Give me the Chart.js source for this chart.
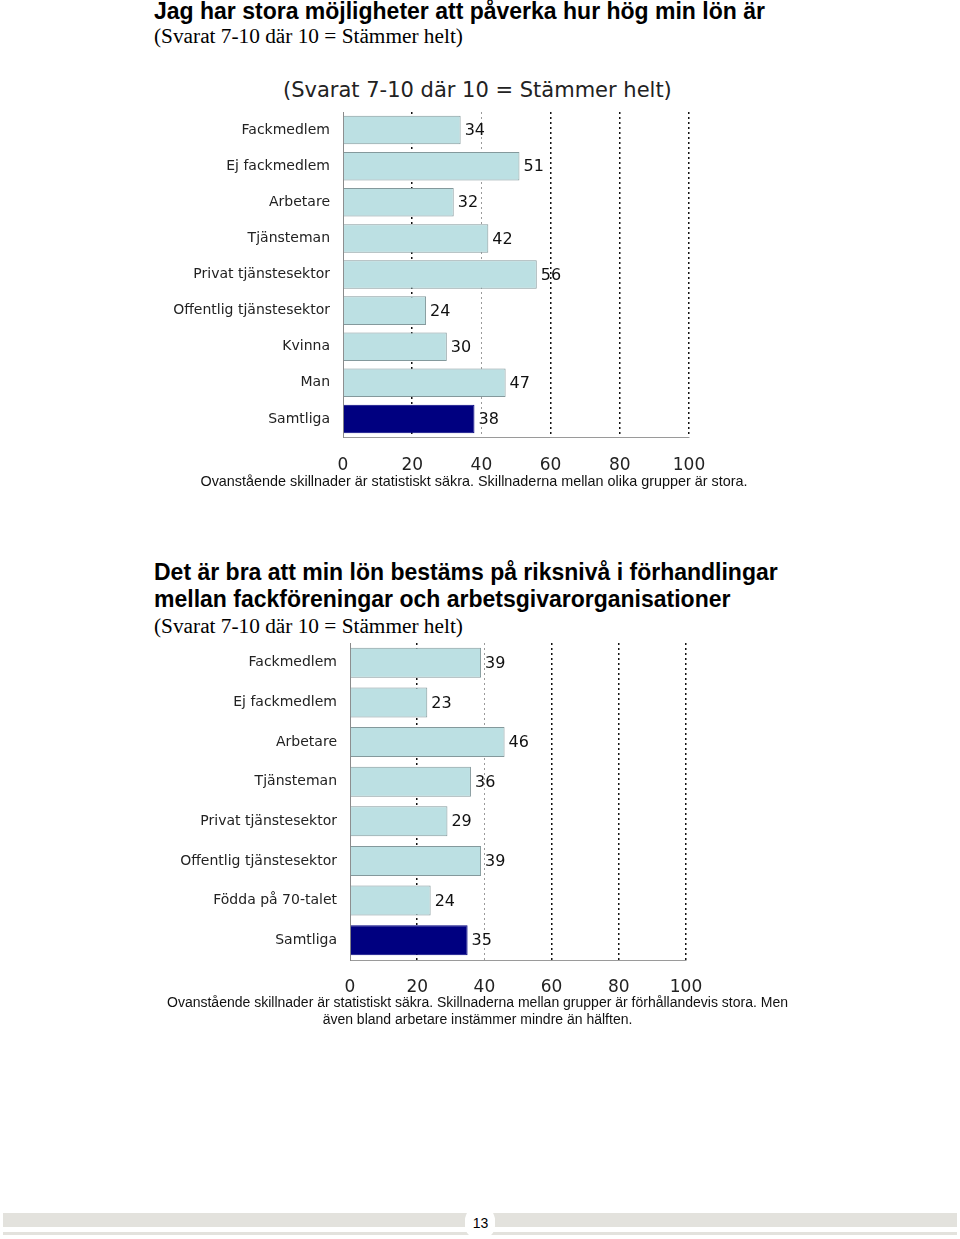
<!DOCTYPE html>
<html><head><meta charset="utf-8">
<script src="https://cdn.jsdelivr.net/npm/chart.js@4/dist/chart.umd.min.js"></script>
<style>
body{margin:0;width:960px;height:1239px;position:relative;background:#fff;overflow:hidden}
.t{position:absolute;white-space:nowrap;color:#000}
.h{font-family:"Liberation Sans",Arial,sans-serif;font-weight:bold;font-size:23px;left:154px;line-height:27px}
.s{font-family:"Liberation Serif","Times New Roman",serif;font-size:21.3px;left:154px;line-height:24px}
.ct{font-family:"DejaVu Sans",sans-serif;font-size:21px;color:#222;line-height:24px}
.fn{font-family:"Liberation Sans",Arial,sans-serif;text-align:center;color:#111;line-height:17px}
canvas{position:absolute}
.bar{position:absolute;background:#e3e2dd}
</style></head>
<body>
<div class="t h" style="top:-2px">Jag har stora möjligheter att påverka hur hög min lön är</div>
<div class="t s" style="top:24px">(Svarat 7-10 där 10 = Stämmer helt)</div>
<div class="t ct" style="left:283px;top:78px">(Svarat 7-10 där 10 = Stämmer helt)</div>
<canvas id="c1" width="600" height="390" style="left:160px;top:100px"></canvas>
<div class="t fn" style="left:0;width:948px;top:473px;font-size:14.4px">Ovanstående skillnader är statistiskt säkra. Skillnaderna mellan olika grupper är stora.</div>

<div class="t h" style="top:559px">Det är bra att min lön bestäms på riksnivå i förhandlingar<br>mellan fackföreningar och arbetsgivarorganisationer</div>
<div class="t s" style="top:614px">(Svarat 7-10 där 10 = Stämmer helt)</div>
<canvas id="c2" width="600" height="380" style="left:160px;top:630px"></canvas>
<div class="t fn" style="left:0;width:955px;top:994px;font-size:14px">Ovanstående skillnader är statistiskt säkra. Skillnaderna mellan grupper är förhållandevis stora. Men<br>även bland arbetare instämmer mindre än hälften.</div>

<div class="bar" style="left:3px;top:1213px;width:954px;height:14px"></div>
<div class="bar" style="left:3px;top:1232px;width:954px;height:3px"></div>
<div style="position:absolute;left:465px;top:1208px;width:30px;height:30px;border-radius:12px;background:#fff"></div>
<div class="t" style="left:465px;width:31px;text-align:center;top:1215px;font-family:'Liberation Sans',Arial,sans-serif;font-size:14px;line-height:16px">13</div>

<script>
const categories1 = ["Fackmedlem","Ej fackmedlem","Arbetare","Tjänsteman","Privat tjänstesektor","Offentlig tjänstesektor","Kvinna","Man","Samtliga"];
const values1 = [34,51,32,42,56,24,30,47,38];
const categories2 = ["Fackmedlem","Ej fackmedlem","Arbetare","Tjänsteman","Privat tjänstesektor","Offentlig tjänstesektor","Födda på 70-talet","Samtliga"];
const values2 = [39,23,46,36,29,39,24,35];
const xTickValues = [0,20,40,60,80,100];

const LIGHT = "#bce0e3", LIGHT_BORDER = "#84999c", NAVY = "#000080";

const valueLabels = {
  id: "valueLabels",
  afterDatasetsDraw(chart) {
    const ctx = chart.ctx;
    const meta = chart.getDatasetMeta(0);
    const data = chart.data.datasets[0].data;
    ctx.save();
    ctx.font = '16px "DejaVu Sans"';
    ctx.fillStyle = "#111";
    ctx.textBaseline = "middle";
    ctx.textAlign = "left";
    meta.data.forEach((bar, i) => ctx.fillText(String(data[i]), bar.x + 4, bar.y + 1));
    ctx.restore();
  }
};

function makeChart(id, cats, vals, opt) {
  return new Chart(document.getElementById(id), {
    type: "bar",
    data: {
      labels: cats,
      datasets: [{
        data: vals,
        backgroundColor: cats.map(c => c === "Samtliga" ? NAVY : LIGHT),
        borderColor: cats.map(c => c === "Samtliga" ? NAVY : LIGHT_BORDER),
        borderWidth: 1,
        barPercentage: opt.barPct,
        categoryPercentage: 1
      }]
    },
    options: {
      indexAxis: "y",
      responsive: false,
      devicePixelRatio: 1,
      animation: false,
      layout: { padding: { top: opt.padTop, right: opt.padRight, bottom: 0, left: 0 } },
      plugins: { legend: { display: false }, tooltip: { enabled: false }, title: { display: false } },
      scales: {
        x: {
          type: "linear", min: 0, max: 100,
          afterBuildTicks: s => { s.ticks = xTickValues.map(v => ({ value: v })); },
          afterFit: s => { s.height = opt.xHeight; s.paddingLeft = 0; s.paddingRight = 0; },
          grid: {
            drawTicks: false,
            color: c => c.tick && c.tick.value === 0 ? "rgba(0,0,0,0)" : (c.tick && c.tick.value === 40 ? "#9a9a9a" : "#111"),
            lineWidth: c => c.tick && c.tick.value === 40 ? 1 : 1.5
          },
          border: { display: true, color: "#9a9a9a", width: 1, dash: [2, 3] },
          ticks: { padding: opt.tickPad, color: "#222", font: { family: "DejaVu Sans", size: 17 } }
        },
        y: {
          type: "category",
          afterFit: s => { s.width = opt.yWidth; s.paddingTop = 0; s.paddingBottom = 0; },
          grid: { display: true, drawTicks: false, color: "rgba(0,0,0,0)" },
          border: { display: true, color: "#8a8a8a", width: 1 },
          ticks: { padding: 13, color: "#222", font: { family: "DejaVu Sans", size: 14 } }
        }
      }
    },
    plugins: [valueLabels]
  });
}

makeChart("c1", categories1, values1, { barPct: 0.79, padTop: 12, padRight: 71, xHeight: 53, tickPad: 18, yWidth: 183 });
makeChart("c2", categories2, values2, { barPct: 0.76, padTop: 13, padRight: 74, xHeight: 50, tickPad: 17, yWidth: 190 });
</script>
</body></html>
